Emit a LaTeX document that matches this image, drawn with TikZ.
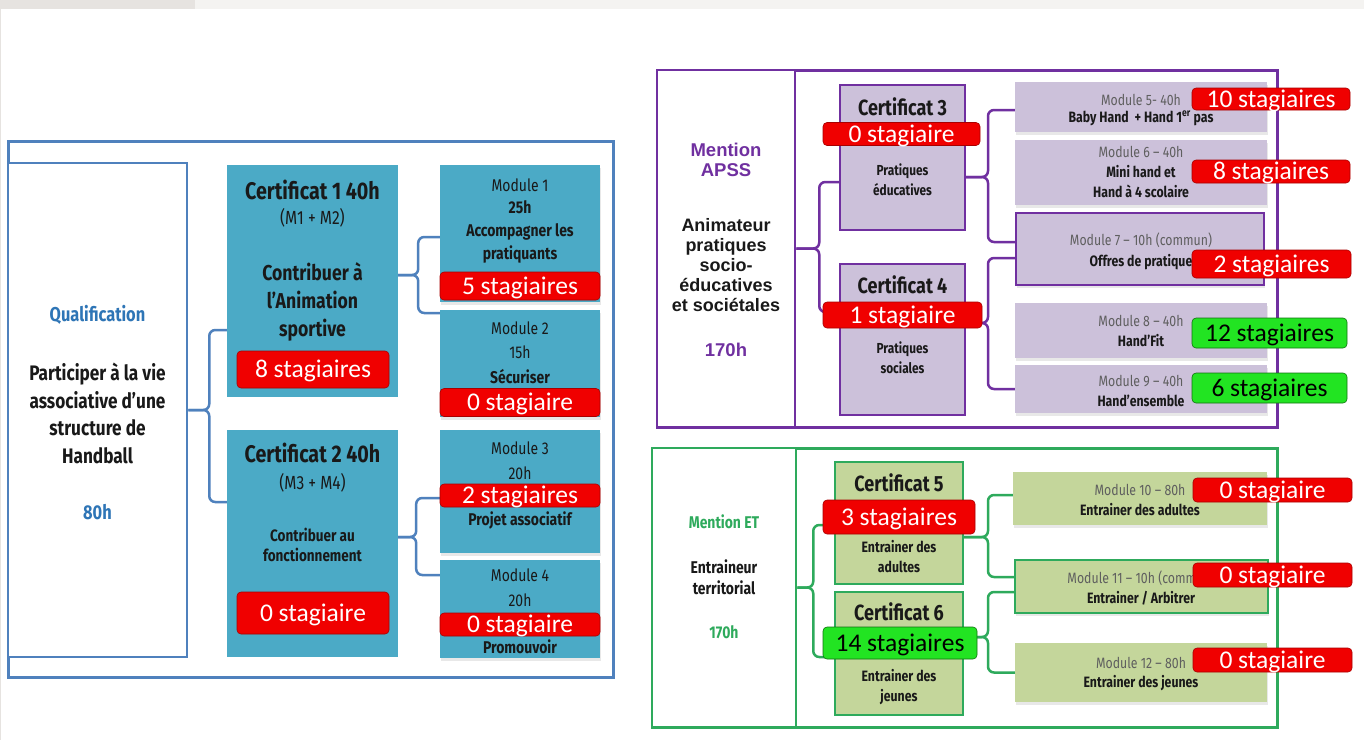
\documentclass[tikz,border=0pt]{standalone}
\usepackage{fontspec}
\usepackage{xcolor}
\usepackage{tikz}
\usetikzlibrary{positioning,shadows}
\newfontfamily\agency[FakeStretch=0.82]{Fira Sans}
\newfontfamily\calib{Carlito}
\newfontfamily\arialfont{Liberation Sans}
\definecolor{qblue}{RGB}{79,129,189}
\definecolor{qtext}{RGB}{46,117,182}
\definecolor{certteal}{RGB}{75,170,198}
\definecolor{apssviolet}{RGB}{112,48,160}
\definecolor{lilac}{RGB}{204,193,218}
\definecolor{etgreen}{RGB}{46,170,92}
\definecolor{sage}{RGB}{196,214,155}
\definecolor{badgered}{RGB}{240,0,0}
\definecolor{badgegreen}{RGB}{34,228,34}
\definecolor{modgrey}{RGB}{95,95,95}
\definecolor{inkdark}{RGB}{25,25,25}
\definecolor{stripgrey}{RGB}{230,227,224}

\begin{document}
\begin{tikzpicture}[x=1pt, y=-1pt,
    panel/.style={draw, line width=3pt, inner sep=0pt, fill=white},
    sidebox/.style={draw, line width=2.5pt, inner sep=0pt, fill=white},
    certbox/.style={inner sep=0pt},
    modbox/.style={inner sep=0pt, drop shadow={opacity=0.18, shadow xshift=1pt, shadow yshift=-2.5pt}},
    link/.style={line width=2.5pt, rounded corners=6pt},
    badge/.style={rectangle, rounded corners=4pt, fill=badgered, draw=badgered!70!black, line width=0.6pt,
        text=white, font={\calib\fontsize{25.5}{26}\selectfont}, inner sep=0pt, text height=16pt, text depth=0pt},
    okbadge/.style={badge, fill=badgegreen, draw=badgegreen!50!black, text=black},
    ctitle/.style={font={\agency\bfseries\fontsize{24}{26}\selectfont}, text=inkdark},
    ctitlesm/.style={font={\agency\bfseries\fontsize{22}{24}\selectfont}, text=inkdark},
    csub/.style={font={\agency\fontsize{19}{21}\selectfont}, text=inkdark},
    cdesc/.style={font={\agency\bfseries\fontsize{21.5}{28}\selectfont}, text=inkdark, align=center},
    cdescsm/.style={font={\agency\bfseries\fontsize{16.5}{20}\selectfont}, text=inkdark, align=center},
    qhead/.style={font={\agency\bfseries\fontsize{20}{22}\selectfont}, text=qtext},
    qbody/.style={font={\agency\bfseries\fontsize{21}{27.7}\selectfont}, text=inkdark, align=center},
    mlabel/.style={font={\agency\fontsize{17}{23}\selectfont}, text=inkdark},
    mtext/.style={font={\agency\bfseries\fontsize{17}{23}\selectfont}, text=inkdark, align=center},
    rmlabel/.style={font={\agency\fontsize{15}{20}\selectfont}, text=modgrey},
    rmtext/.style={font={\agency\bfseries\fontsize{15}{20}\selectfont}, text=inkdark, align=center},
    rcdesc/.style={font={\agency\bfseries\fontsize{14.5}{20}\selectfont}, text=inkdark, align=center},
    apsshead/.style={font={\arialfont\bfseries\fontsize{18.5}{20.5}\selectfont}, text=apssviolet, align=center},
    apssbody/.style={font={\arialfont\bfseries\fontsize{18}{20}\selectfont}, text=inkdark, align=center},
    ethead/.style={font={\agency\bfseries\fontsize{17}{20}\selectfont}, text=etgreen},
    etbody/.style={font={\agency\bfseries\fontsize{17}{21}\selectfont}, text=inkdark, align=center}
]
    \useasboundingbox (0,0) rectangle (1364,740);
    % top strip of the slide
    \fill[stripgrey] (0,0) rectangle (195,9);
    \fill[stripgrey!45] (195,0) rectangle (1364,9);
    \draw[stripgrey, line width=1pt] (0.5,9) -- (0.5,740);

    % Qualification (blue)
    \node[panel, draw=qblue, minimum width=605pt, minimum height=536pt] (qpanel) at (310.5,409) {};
    \node[sidebox, draw=qblue, minimum width=179pt, minimum height=494pt] (qual) at (97.5,410) {};
    \node[certbox, fill=certteal, minimum width=171pt, minimum height=232pt] (cert1) at (312.5,281) {};
    \node[certbox, fill=certteal, minimum width=171pt, minimum height=227pt] (cert2) at (312.5,543.5) {};
    \node[modbox, fill=certteal, minimum width=160pt, minimum height=137pt] (mod1) at (520,233.5) {};
    \node[modbox, fill=certteal, minimum width=160pt, minimum height=107pt] (mod2) at (520,363.5) {};
    \node[modbox, fill=certteal, minimum width=160pt, minimum height=123pt] (mod3) at (520,491.5) {};
    \node[modbox, fill=certteal, minimum width=160pt, minimum height=98pt] (mod4) at (520,609) {};

    \draw[link, draw=qblue] (qual.east) -- ++(21,0) |- ([yshift=-49pt]cert1.west);
    \draw[link, draw=qblue] (qual.east) -- ++(21,0) |- ([yshift=41.5pt]cert2.west);
    \draw[link, draw=qblue] ([yshift=6pt]cert1.east) -- ++(20,0) |- ([yshift=-3.5pt]mod1.west);
    \draw[link, draw=qblue] ([yshift=6pt]cert1.east) -- ++(20,0) |- ([yshift=50.5pt]mod2.west);
    \draw[link, draw=qblue] ([yshift=6.5pt]cert2.east) -- ++(18,0) |- ([yshift=-6.5pt]mod3.west);
    \draw[link, draw=qblue] ([yshift=6.5pt]cert2.east) -- ++(18,0) |- ([yshift=34pt]mod4.west);

    \node[qhead] (qualhead) at (97.5,315) {Qualification};
    \node[qbody] (qualbody) at (97.5,413.5) {Participer à la vie\\associative d’une\\structure de\\Handball};
    \node[qhead] (qualhours) at (97.5,512) {80h};

    \node[ctitle] (c1title) at (312.5,190) {Certificat 1 40h};
    \node[csub] (c1sub) at (312.5,218) {(M1 + M2)};
    \node[cdesc] (c1desc) at (312.5,302) {Contribuer à\\l’Animation\\sportive};
    \node[ctitle] (c2title) at (312.5,453) {Certificat 2 40h};
    \node[csub] (c2sub) at (312.5,483) {(M3 + M4)};
    \node[cdescsm] (c2desc) at (312.5,545) {Contribuer au\\fonctionnement};

    \node[mlabel] (m1label) at (520,185) {Module 1};
    \node[mtext] (m1hours) at (520,207) {25h};
    \node[mtext] (m1text) at (520,243.5) {Accompagner les\\pratiquants};
    \node[mlabel] (m2label) at (520,328) {Module 2};
    \node[mlabel] (m2hours) at (520,352) {15h};
    \node[mtext] (m2text) at (520,377) {Sécuriser};
    \node[mlabel] (m3label) at (520,448) {Module 3};
    \node[mlabel] (m3hours) at (520,473) {20h};
    \node[mtext] (m3text) at (520,520) {Projet associatif};
    \node[mlabel] (m4label) at (520,575) {Module 4};
    \node[mlabel] (m4hours) at (520,600) {20h};
    \node[mtext] (m4text) at (520,647) {Promouvoir};

    \node[badge, minimum width=152pt, minimum height=37pt] (c1count) at (313,369.5) {8 stagiaires};
    \node[badge, minimum width=152pt, minimum height=42pt] (c2count) at (313,613) {0 stagiaire};
    \node[badge, minimum width=160pt, minimum height=28pt] (m1count) at (520,286) {5 stagiaires};
    \node[badge, minimum width=160pt, minimum height=28pt] (m2count) at (520,402.5) {0 stagiaire};
    \node[badge, minimum width=160pt, minimum height=23pt] (m3count) at (520,495.5) {2 stagiaires};
    \node[badge, minimum width=160pt, minimum height=23pt] (m4count) at (520,624.5) {0 stagiaire};

    % Mention APSS (violet)
    \node[panel, draw=apssviolet, minimum width=620pt, minimum height=357pt] (apanel) at (967,248.5) {};
    \node[sidebox, draw=apssviolet, minimum width=138pt, minimum height=357pt] (apss) at (726,248.5) {};
    \node[certbox, fill=lilac, draw=apssviolet, line width=2pt, minimum width=125pt, minimum height=145pt] (cert3) at (902.5,157.5) {};
    \node[certbox, fill=lilac, draw=apssviolet, line width=2pt, minimum width=125pt, minimum height=151pt] (cert4) at (902.5,339.5) {};
    \node[modbox, fill=lilac, minimum width=252pt, minimum height=50pt] (mod5) at (1141,107) {};
    \node[modbox, fill=lilac, minimum width=252pt, minimum height=65pt] (mod6) at (1141,172.5) {};
    \node[modbox, fill=lilac, draw=apssviolet, line width=1.8pt, minimum width=248pt, minimum height=72pt] (mod7) at (1140,249) {};
    \node[modbox, fill=lilac, minimum width=252pt, minimum height=55pt] (mod8) at (1141,330.5) {};
    \node[modbox, fill=lilac, minimum width=252pt, minimum height=48pt] (mod9) at (1141,389) {};

    \draw[link, draw=apssviolet] (apss.east) -- ++(23,0) |- ([yshift=-24.5pt]cert3.west);
    \draw[link, draw=apssviolet] (apss.east) -- ++(23,0) |- ([yshift=27.5pt]cert4.west);
    \draw[link, draw=apssviolet] ([yshift=-19.5pt]cert3.east) -- ++(22,0) |- ([yshift=-3pt]mod5.west);
    \draw[link, draw=apssviolet] ([yshift=-19.5pt]cert3.east) -- ++(22,0) |- ([yshift=7pt]mod7.west);
    \draw[link, draw=apssviolet] ([yshift=16.5pt]cert4.east) -- ++(22,0) |- ([yshift=-9pt]mod7.west);
    \draw[link, draw=apssviolet] ([yshift=16.5pt]cert4.east) -- ++(22,0) |- (mod9.west);

    \node[apsshead] (apsshead) at (726,160) {Mention\\APSS};
    \node[apssbody] (apssbody) at (726,265) {Animateur\\pratiques\\socio-\\éducatives\\et sociétales};
    \node[apsshead] (apsshours) at (726,350) {170h};

    \node[ctitlesm] (c3title) at (902.5,107) {Certificat 3};
    \node[rcdesc] (c3desc) at (902.5,180) {Pratiques\\éducatives};
    \node[ctitlesm] (c4title) at (902.5,285) {Certificat 4};
    \node[rcdesc] (c4desc) at (902.5,358) {Pratiques\\sociales};

    \node[rmlabel] (m5label) at (1141,100) {Module 5- 40h};
    \node[rmtext] (m5text) at (1141,118) {Baby Hand ~+ Hand 1\textsuperscript{er} pas};
    \node[rmlabel] (m6label) at (1141,152) {Module 6 – 40h};
    \node[rmtext] (m6text) at (1141,182) {Mini hand et\\Hand à 4 scolaire};
    \node[rmlabel] (m7label) at (1141,240) {Module 7 – 10h (commun)};
    \node[rmtext] (m7text) at (1141,262) {Offres de pratique};
    \node[rmlabel] (m8label) at (1141,321) {Module 8 – 40h};
    \node[rmtext] (m8text) at (1141,341) {Hand’Fit};
    \node[rmlabel] (m9label) at (1141,381) {Module 9 – 40h};
    \node[rmtext] (m9text) at (1141,401) {Hand’ensemble};

    \node[badge, minimum width=157pt, minimum height=23pt] (c3count) at (901.5,134) {0 stagiaire};
    \node[badge, minimum width=159pt, minimum height=26pt] (c4count) at (902.5,315) {1 stagiaire};
    \node[badge, minimum width=158pt, minimum height=22pt] (m5count) at (1271,99) {10 stagiaires};
    \node[badge, minimum width=158pt, minimum height=23pt] (m6count) at (1271,171.5) {8 stagiaires};
    \node[badge, minimum width=159pt, minimum height=28pt] (m7count) at (1271.5,264) {2 stagiaires};
    \node[okbadge, minimum width=155pt, minimum height=30pt] (m8count) at (1269.5,333) {12 stagiaires};
    \node[okbadge, minimum width=155pt, minimum height=30pt] (m9count) at (1269.5,388) {6 stagiaires};

    % Mention ET (green)
    \node[panel, draw=etgreen, minimum width=625pt, minimum height=279pt] (epanel) at (964.5,587.5) {};
    \node[sidebox, draw=etgreen, minimum width=144pt, minimum height=279pt] (et) at (724,587.5) {};
    \node[certbox, fill=sage, draw=etgreen, line width=2pt, minimum width=128pt, minimum height=122pt] (cert5) at (899,523) {};
    \node[certbox, fill=sage, draw=etgreen, line width=2pt, minimum width=128pt, minimum height=123pt] (cert6) at (899,653.5) {};
    \node[modbox, fill=sage, minimum width=254pt, minimum height=53pt] (mod10) at (1140,498.5) {};
    \node[modbox, fill=sage, draw=etgreen, line width=1.8pt, minimum width=253pt, minimum height=53pt] (mod11) at (1141.5,586.5) {};
    \node[modbox, fill=sage, minimum width=252pt, minimum height=59pt] (mod12) at (1141,672.5) {};

    \draw[link, draw=etgreen] (et.east) -- ++(16,0) |- ([yshift=-2pt]cert5.west);
    \draw[link, draw=etgreen] (et.east) -- ++(16,0) |- ([yshift=-3.5pt]cert6.west);
    \draw[link, draw=etgreen] ([yshift=-14pt]cert5.east) -- ++(24,0) |- ([yshift=3.5pt]mod10.west);
    \draw[link, draw=etgreen] ([yshift=-14pt]cert5.east) -- ++(24,0) |- ([yshift=9.5pt]mod11.west);
    \draw[link, draw=etgreen] ([yshift=16.5pt]cert6.east) -- ++(24,0) |- ([yshift=-5.5pt]mod11.west);
    \draw[link, draw=etgreen] ([yshift=16.5pt]cert6.east) -- ++(24,0) |- (mod12.west);

    \node[ethead] (ethead) at (724,522) {Mention ET};
    \node[etbody] (etbody) at (724,577) {Entraineur\\territorial};
    \node[ethead] (ethours) at (724,632) {170h};

    \node[ctitlesm] (c5title) at (899,483) {Certificat 5};
    \node[rmtext] (c5desc) at (899,557) {Entrainer des\\adultes};
    \node[ctitlesm] (c6title) at (899,612) {Certificat 6};
    \node[rmtext] (c6desc) at (899,687) {Entrainer des\\jeunes};

    \node[rmlabel] (m10label) at (1140,490) {Module 10 – 80h};
    \node[rmtext] (m10text) at (1140,510) {Entrainer des adultes};
    \node[rmlabel] (m11label) at (1141,578) {Module 11 – 10h (commun)};
    \node[rmtext] (m11text) at (1141,598) {Entrainer / Arbitrer};
    \node[rmlabel] (m12label) at (1141,663) {Module 12 – 80h};
    \node[rmtext] (m12text) at (1141,683) {Entrainer des jeunes};

    \node[badge, minimum width=152pt, minimum height=34pt] (c5count) at (899,517) {3 stagiaires};
    \node[okbadge, minimum width=154pt, minimum height=32pt] (c6count) at (900,643) {14 stagiaires};
    \node[badge, minimum width=159pt, minimum height=24pt] (m10count) at (1272.5,490) {0 stagiaire};
    \node[badge, minimum width=159pt, minimum height=24pt] (m11count) at (1272.5,575) {0 stagiaire};
    \node[badge, minimum width=159pt, minimum height=24pt] (m12count) at (1272.5,660) {0 stagiaire};
\end{tikzpicture}
\end{document}
